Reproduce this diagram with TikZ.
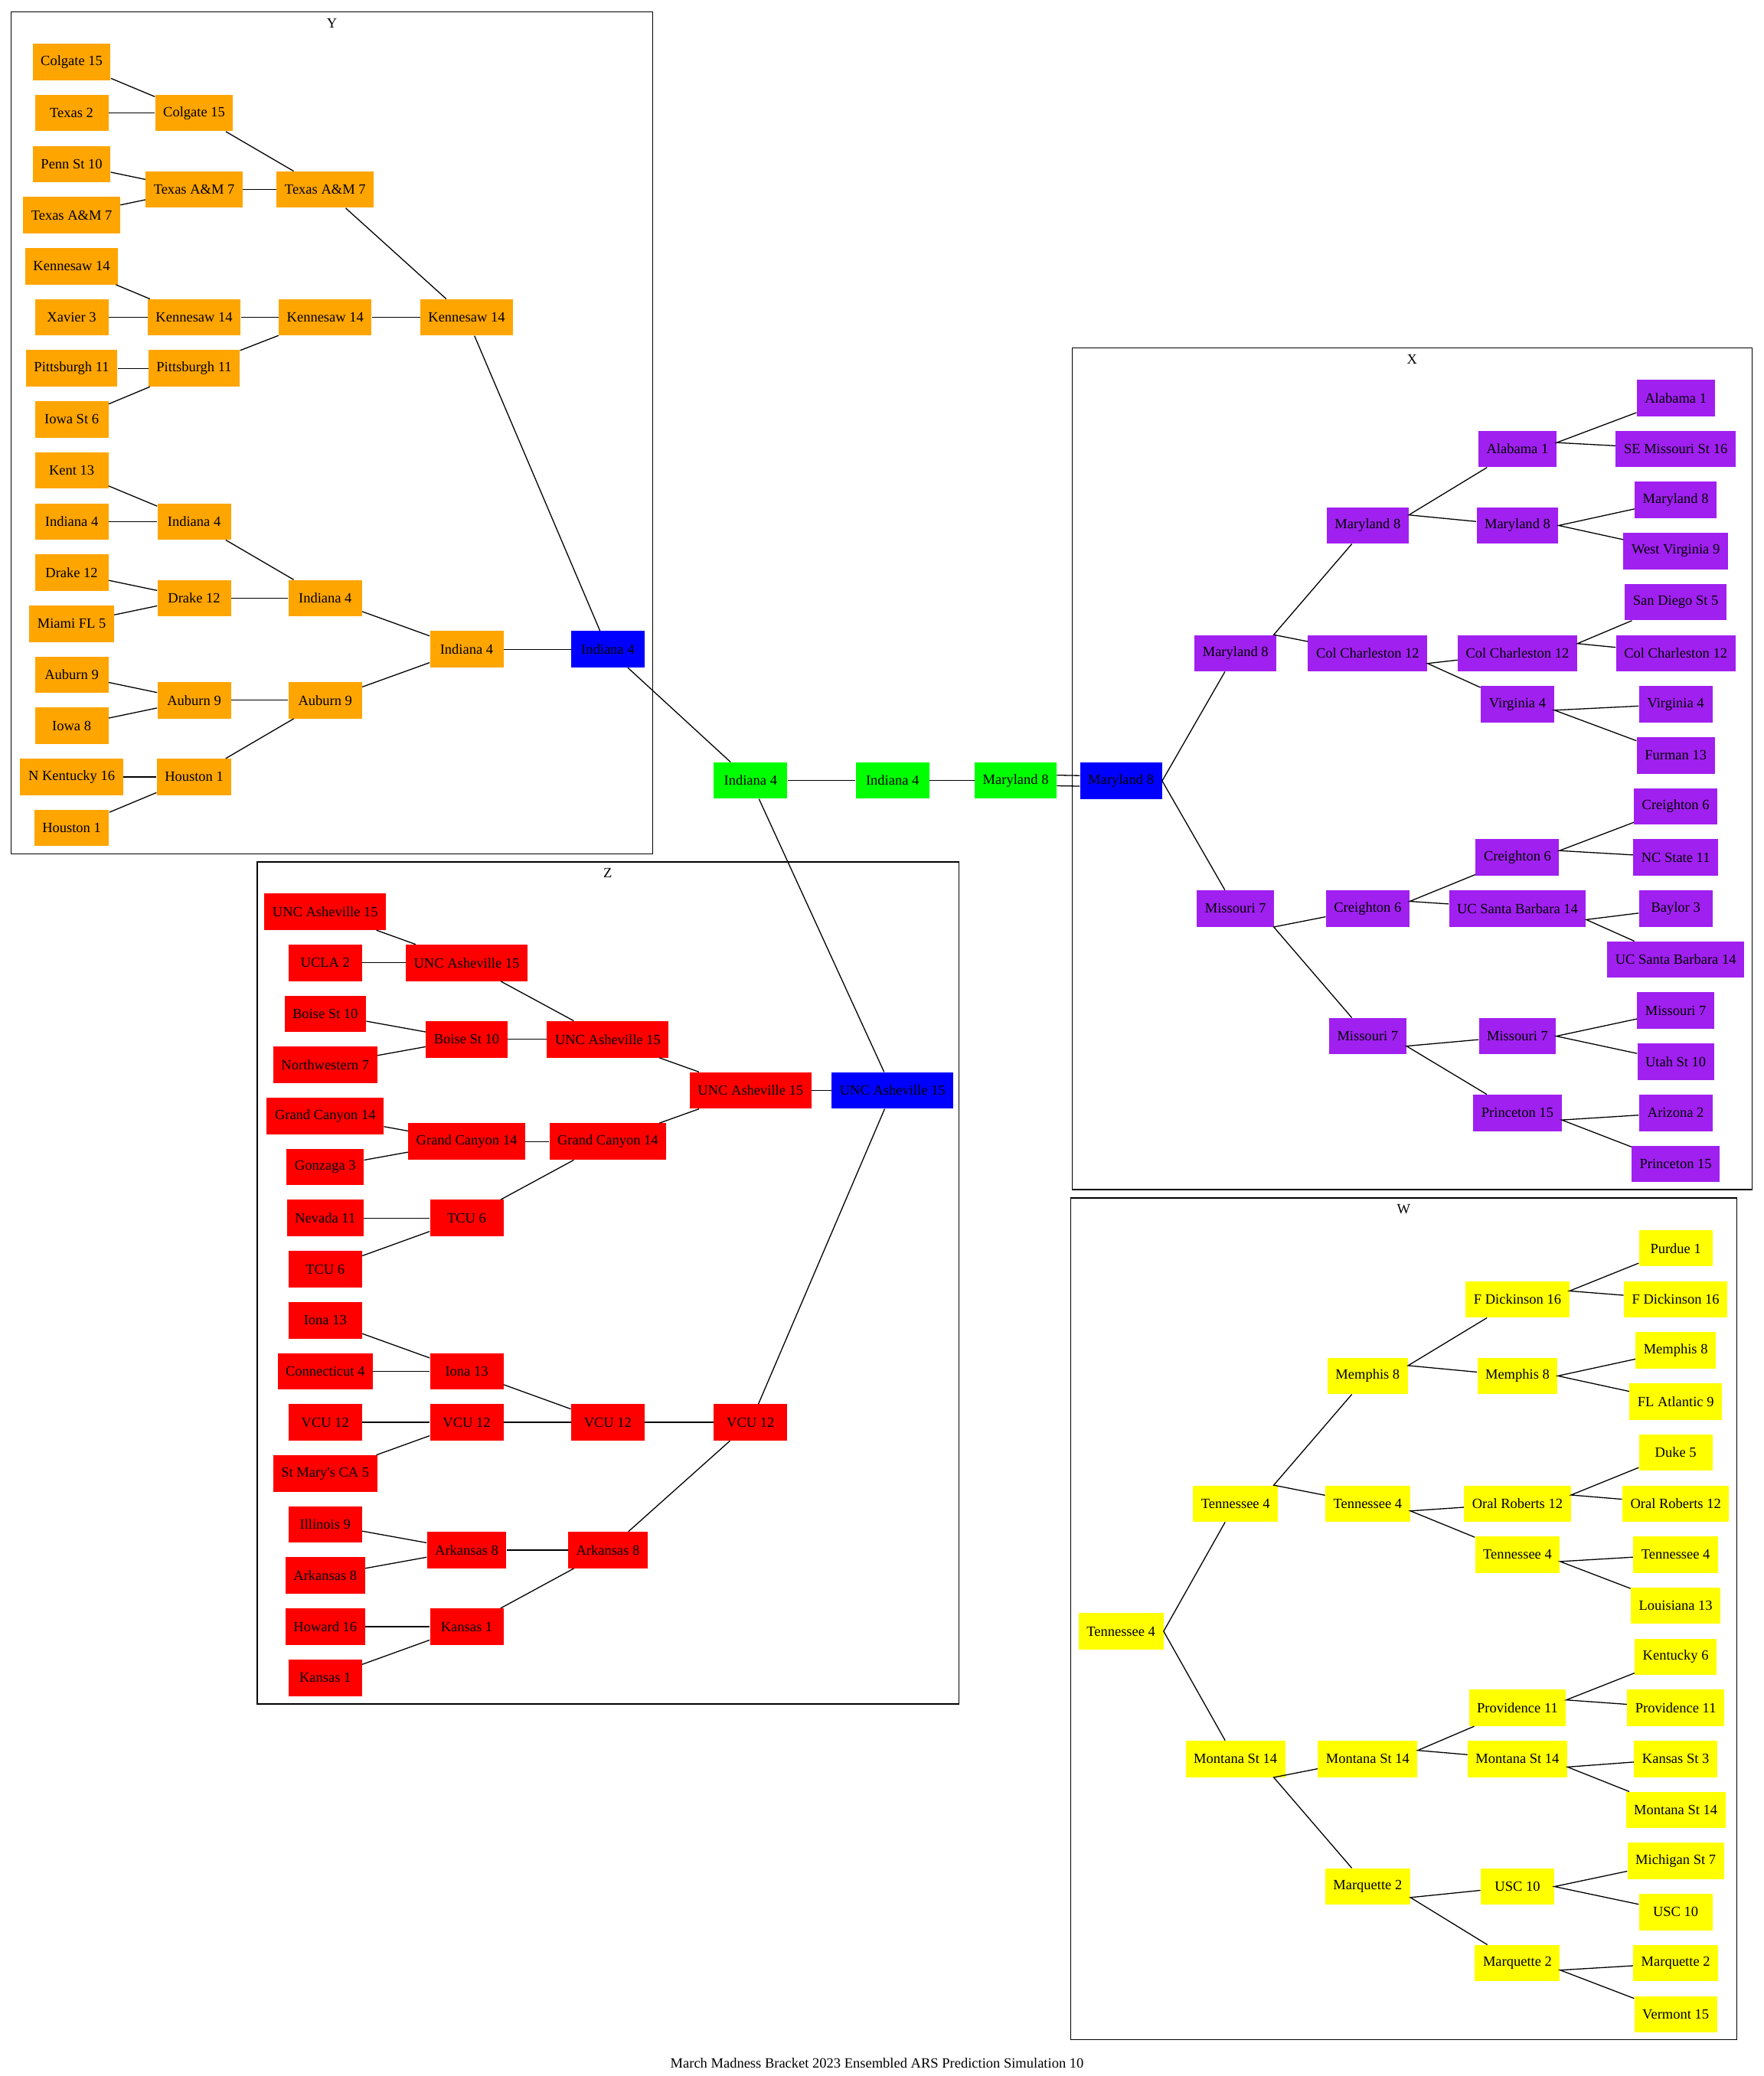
\documentclass[tikz,border=0pt]{standalone}
\usepackage{fontspec}
\setmainfont{Liberation Serif}
\usetikzlibrary{calc}
\definecolor{gvorange}{HTML}{FFA500}
\definecolor{gvpurple}{HTML}{A020F0}
\definecolor{gvblue}{HTML}{0000FF}
\definecolor{gvgreen}{HTML}{00FF00}
\definecolor{gvred}{HTML}{FF0000}
\definecolor{gvyellow}{HTML}{FFFF00}
% parent on the left: both games leave one point of its border
\newcommand{\bfork}[3]{%
  \path (#1) -- coordinate[pos=0] (k#1) ($(#2)!.5!(#3)$);
  \draw[game] (#2) -- (k#1) -- (#3);}

\begin{document}
\begin{tikzpicture}[
  x=1pt, y=-1pt,
  team/.style={rectangle, inner xsep=6.1pt, inner ysep=0pt,
               minimum width=55.5pt, minimum height=27.5pt,
               font=\fontsize{10.7}{12}\selectfont},
  ynode/.style={team, fill=gvorange},
  xnode/.style={team, fill=gvpurple},
  wnode/.style={team, fill=gvyellow},
  znode/.style={team, fill=gvred},
  champ/.style={team, fill=gvblue},
  final/.style={team, fill=gvgreen},
  game/.style={line width=0.75pt},
  region/.style={draw, line width=0.75pt},
  lbl/.style={font=\fontsize{10.7}{12}\selectfont, inner sep=0pt}
]
\useasboundingbox (0,0) rectangle (1332,1568);

% Region boxes
\draw[region] (8.5,9) rectangle (493,645);
\node[lbl] (ylbl) at (250.7,17.4) {Y};
\draw[region] (194.3,651) rectangle (724,1287);
\node[lbl] (zlbl) at (459,659.4) {Z};
\draw[region] (809.6,262.9) rectangle (1323,898.5);
\node[lbl] (xlbl) at (1066.3,271.3) {X};
\draw[region] (808.6,904.8) rectangle (1311.4,1540.5);
\node[lbl] (wlbl) at (1060,913.4) {W};

% Region Y
\node[ynode] (Y1a) at (54.1,46.8) {Colgate 15};
\node[ynode] (Y1b) at (54.1,85.4) {Texas 2};
\node[ynode] (Y1c) at (54.1,123.9) {Penn St 10};
\node[ynode] (Y1d) at (54.1,162.5) {Texas A\&M 7};
\node[ynode] (Y1e) at (54.1,201.1) {Kennesaw 14};
\node[ynode] (Y1f) at (54.1,239.7) {Xavier 3};
\node[ynode] (Y1g) at (54.1,278.2) {Pittsburgh 11};
\node[ynode] (Y1h) at (54.1,316.8) {Iowa St 6};
\node[ynode] (Y1i) at (54.1,355.4) {Kent 13};
\node[ynode] (Y1j) at (54.1,393.9) {Indiana 4};
\node[ynode] (Y1k) at (54.1,432.5) {Drake 12};
\node[ynode] (Y1l) at (54.1,471.1) {Miami FL 5};
\node[ynode] (Y1m) at (54.1,509.6) {Auburn 9};
\node[ynode] (Y1n) at (54.1,548.2) {Iowa 8};
\node[ynode] (Y1o) at (54.1,586.8) {N Kentucky 16};
\node[ynode] (Y1p) at (54.1,625.4) {Houston 1};

\node[ynode] (Y2a) at (146.6,85.4) {Colgate 15};
\node[ynode] (Y2b) at (146.6,143.2) {Texas A\&M 7};
\node[ynode] (Y2c) at (146.6,239.7) {Kennesaw 14};
\node[ynode] (Y2d) at (146.6,278.2) {Pittsburgh 11};
\node[ynode] (Y2e) at (146.6,393.9) {Indiana 4};
\node[ynode] (Y2f) at (146.6,451.8) {Drake 12};
\node[ynode] (Y2g) at (146.6,528.9) {Auburn 9};
\node[ynode] (Y2h) at (146.6,586.8) {Houston 1};

\node[ynode] (Y3a) at (245.6,143.2) {Texas A\&M 7};
\node[ynode] (Y3b) at (245.6,239.7) {Kennesaw 14};
\node[ynode] (Y3c) at (245.6,451.8) {Indiana 4};
\node[ynode] (Y3d) at (245.6,528.9) {Auburn 9};

\node[ynode] (Y4a) at (352.4,239.7) {Kennesaw 14};
\node[ynode] (Y4b) at (352.4,490.4) {Indiana 4};

\node[champ] (Y5) at (459,490.4) {Indiana 4};

% Region Z
\node[znode] (Z1a) at (245.6,688.6) {UNC Asheville 15};
\node[znode] (Z1b) at (245.6,727.2) {UCLA 2};
\node[znode] (Z1c) at (245.6,765.7) {Boise St 10};
\node[znode] (Z1d) at (245.6,804.3) {Northwestern 7};
\node[znode] (Z1e) at (245.6,842.9) {Grand Canyon 14};
\node[znode] (Z1f) at (245.6,881.5) {Gonzaga 3};
\node[znode] (Z1g) at (245.6,920.0) {Nevada 11};
\node[znode] (Z1h) at (245.6,958.6) {TCU 6};
\node[znode] (Z1i) at (245.6,997.2) {Iona 13};
\node[znode] (Z1j) at (245.6,1035.7) {Connecticut 4};
\node[znode] (Z1k) at (245.6,1074.3) {VCU 12};
\node[znode] (Z1l) at (245.6,1112.9) {St Mary\textquotesingle s CA 5};
\node[znode] (Z1m) at (245.6,1151.4) {Illinois 9};
\node[znode] (Z1n) at (245.6,1190.0) {Arkansas 8};
\node[znode] (Z1o) at (245.6,1228.6) {Howard 16};
\node[znode] (Z1p) at (245.6,1267.2) {Kansas 1};

\node[znode] (Z2a) at (352.4,727.2) {UNC Asheville 15};
\node[znode] (Z2b) at (352.4,785.0) {Boise St 10};
\node[znode] (Z2c) at (352.4,862.2) {Grand Canyon 14};
\node[znode] (Z2d) at (352.4,920.0) {TCU 6};
\node[znode] (Z2e) at (352.4,1035.7) {Iona 13};
\node[znode] (Z2f) at (352.4,1074.3) {VCU 12};
\node[znode] (Z2g) at (352.4,1170.7) {Arkansas 8};
\node[znode] (Z2h) at (352.4,1228.6) {Kansas 1};

\node[znode] (Z3a) at (459,785.0) {UNC Asheville 15};
\node[znode] (Z3b) at (459,862.2) {Grand Canyon 14};
\node[znode] (Z3c) at (459,1074.3) {VCU 12};
\node[znode] (Z3d) at (459,1170.7) {Arkansas 8};

\node[znode] (Z4a) at (566.8,823.6) {UNC Asheville 15};
\node[znode] (Z4b) at (566.8,1074.3) {VCU 12};

\node[champ] (Z5) at (674,823.6) {UNC Asheville 15};

% Final rounds
\node[final] (F1) at (566.8,589.5) {Indiana 4};
\node[final] (F2) at (674,589.5) {Indiana 4};
\node[final] (F3) at (767,589.5) {Maryland 8};

% Region X
\node[champ] (X5) at (846.5,589.8) {Maryland 8};

\node[xnode] (X4a) at (933,493.4) {Maryland 8};
\node[xnode] (X4b) at (933,686.2) {Missouri 7};

\node[xnode] (X3a) at (1032.8,396.9) {Maryland 8};
\node[xnode] (X3b) at (1032.8,493.4) {Col Charleston 12};
\node[xnode] (X3c) at (1032.8,686.2) {Creighton 6};
\node[xnode] (X3d) at (1032.8,782.6) {Missouri 7};

\node[xnode] (X2a) at (1145.9,339.1) {Alabama 1};
\node[xnode] (X2b) at (1145.9,396.9) {Maryland 8};
\node[xnode] (X2c) at (1145.9,493.4) {Col Charleston 12};
\node[xnode] (X2d) at (1145.9,531.9) {Virginia 4};
\node[xnode] (X2e) at (1145.9,647.6) {Creighton 6};
\node[xnode] (X2f) at (1145.9,686.2) {UC Santa Barbara 14};
\node[xnode] (X2g) at (1145.9,782.6) {Missouri 7};
\node[xnode] (X2h) at (1145.9,840.5) {Princeton 15};

\node[xnode] (X1a) at (1265.4,300.5) {Alabama 1};
\node[xnode] (X1b) at (1265.4,339.1) {SE Missouri St 16};
\node[xnode] (X1c) at (1265.4,377.6) {Maryland 8};
\node[xnode] (X1d) at (1265.4,416.2) {West Virginia 9};
\node[xnode] (X1e) at (1265.4,454.8) {San Diego St 5};
\node[xnode] (X1f) at (1265.4,493.4) {Col Charleston 12};
\node[xnode] (X1g) at (1265.4,531.9) {Virginia 4};
\node[xnode] (X1h) at (1265.4,570.5) {Furman 13};
\node[xnode] (X1i) at (1265.4,609.1) {Creighton 6};
\node[xnode] (X1j) at (1265.4,647.6) {NC State 11};
\node[xnode] (X1k) at (1265.4,686.2) {Baylor 3};
\node[xnode] (X1l) at (1265.4,724.8) {UC Santa Barbara 14};
\node[xnode] (X1m) at (1265.4,763.3) {Missouri 7};
\node[xnode] (X1n) at (1265.4,801.9) {Utah St 10};
\node[xnode] (X1o) at (1265.4,840.5) {Arizona 2};
\node[xnode] (X1p) at (1265.4,879.1) {Princeton 15};

% Region W
\node[wnode] (W5) at (846.5,1232.1) {Tennessee 4};

\node[wnode] (W4a) at (933,1135.7) {Tennessee 4};
\node[wnode] (W4b) at (933,1328.5) {Montana St 14};

\node[wnode] (W3a) at (1032.8,1039.2) {Memphis 8};
\node[wnode] (W3b) at (1032.8,1135.7) {Tennessee 4};
\node[wnode] (W3c) at (1032.8,1328.5) {Montana St 14};
\node[wnode] (W3d) at (1032.8,1424.9) {Marquette 2};

\node[wnode] (W2a) at (1145.9,981.4) {F Dickinson 16};
\node[wnode] (W2b) at (1145.9,1039.2) {Memphis 8};
\node[wnode] (W2c) at (1145.9,1135.7) {Oral Roberts 12};
\node[wnode] (W2d) at (1145.9,1174.2) {Tennessee 4};
\node[wnode] (W2e) at (1145.9,1289.9) {Providence 11};
\node[wnode] (W2f) at (1145.9,1328.5) {Montana St 14};
\node[wnode] (W2g) at (1145.9,1424.9) {USC 10};
\node[wnode] (W2h) at (1145.9,1482.8) {Marquette 2};

\node[wnode] (W1a) at (1265.4,942.8) {Purdue 1};
\node[wnode] (W1b) at (1265.4,981.4) {F Dickinson 16};
\node[wnode] (W1c) at (1265.4,1019.9) {Memphis 8};
\node[wnode] (W1d) at (1265.4,1058.5) {FL Atlantic 9};
\node[wnode] (W1e) at (1265.4,1097.1) {Duke 5};
\node[wnode] (W1f) at (1265.4,1135.7) {Oral Roberts 12};
\node[wnode] (W1g) at (1265.4,1174.2) {Tennessee 4};
\node[wnode] (W1h) at (1265.4,1212.8) {Louisiana 13};
\node[wnode] (W1i) at (1265.4,1251.4) {Kentucky 6};
\node[wnode] (W1j) at (1265.4,1289.9) {Providence 11};
\node[wnode] (W1k) at (1265.4,1328.5) {Kansas St 3};
\node[wnode] (W1l) at (1265.4,1367.1) {Montana St 14};
\node[wnode] (W1m) at (1265.4,1405.6) {Michigan St 7};
\node[wnode] (W1n) at (1265.4,1444.2) {USC 10};
\node[wnode] (W1o) at (1265.4,1482.8) {Marquette 2};
\node[wnode] (W1p) at (1265.4,1521.4) {Vermont 15};

% Games Y
\draw[game] (Y1a) -- (Y2a);
\draw[game] (Y1b) -- (Y2a);
\draw[game] (Y1c) -- (Y2b);
\draw[game] (Y1d) -- (Y2b);
\draw[game] (Y1e) -- (Y2c);
\draw[game] (Y1f) -- (Y2c);
\draw[game] (Y1g) -- (Y2d);
\draw[game] (Y1h) -- (Y2d);
\draw[game] (Y1i) -- (Y2e);
\draw[game] (Y1j) -- (Y2e);
\draw[game] (Y1k) -- (Y2f);
\draw[game] (Y1l) -- (Y2f);
\draw[game] (Y1m) -- (Y2g);
\draw[game] (Y1n) -- (Y2g);
\draw[game] (Y1o) -- (Y2h);
\draw[game] (Y1p) -- (Y2h);
\draw[game] (Y2a) -- (Y3a);
\draw[game] (Y2b) -- (Y3a);
\draw[game] (Y2c) -- (Y3b);
\draw[game] (Y2d) -- (Y3b);
\draw[game] (Y2e) -- (Y3c);
\draw[game] (Y2f) -- (Y3c);
\draw[game] (Y2g) -- (Y3d);
\draw[game] (Y2h) -- (Y3d);
\draw[game] (Y3a) -- (Y4a);
\draw[game] (Y3b) -- (Y4a);
\draw[game] (Y3c) -- (Y4b);
\draw[game] (Y3d) -- (Y4b);
\draw[game] (Y4a) -- (Y5);
\draw[game] (Y4b) -- (Y5);

% Games Z
\draw[game] (Z1a) -- (Z2a);
\draw[game] (Z1b) -- (Z2a);
\draw[game] (Z1c) -- (Z2b);
\draw[game] (Z1d) -- (Z2b);
\draw[game] (Z1e) -- (Z2c);
\draw[game] (Z1f) -- (Z2c);
\draw[game] (Z1g) -- (Z2d);
\draw[game] (Z1h) -- (Z2d);
\draw[game] (Z1i) -- (Z2e);
\draw[game] (Z1j) -- (Z2e);
\draw[game] (Z1k) -- (Z2f);
\draw[game] (Z1l) -- (Z2f);
\draw[game] (Z1m) -- (Z2g);
\draw[game] (Z1n) -- (Z2g);
\draw[game] (Z1o) -- (Z2h);
\draw[game] (Z1p) -- (Z2h);
\draw[game] (Z2a) -- (Z3a);
\draw[game] (Z2b) -- (Z3a);
\draw[game] (Z2c) -- (Z3b);
\draw[game] (Z2d) -- (Z3b);
\draw[game] (Z2e) -- (Z3c);
\draw[game] (Z2f) -- (Z3c);
\draw[game] (Z2g) -- (Z3d);
\draw[game] (Z2h) -- (Z3d);
\draw[game] (Z3a) -- (Z4a);
\draw[game] (Z3b) -- (Z4a);
\draw[game] (Z3c) -- (Z4b);
\draw[game] (Z3d) -- (Z4b);
\draw[game] (Z4a) -- (Z5);
\draw[game] (Z4b) -- (Z5);

% Games X
\bfork{X5}{X4a}{X4b}
\bfork{X4a}{X3a}{X3b}
\bfork{X4b}{X3c}{X3d}
\bfork{X3a}{X2a}{X2b}
\bfork{X3b}{X2c}{X2d}
\bfork{X3c}{X2e}{X2f}
\bfork{X3d}{X2g}{X2h}
\bfork{X2a}{X1a}{X1b}
\bfork{X2b}{X1c}{X1d}
\bfork{X2c}{X1e}{X1f}
\bfork{X2d}{X1g}{X1h}
\bfork{X2e}{X1i}{X1j}
\bfork{X2f}{X1k}{X1l}
\bfork{X2g}{X1m}{X1n}
\bfork{X2h}{X1o}{X1p}

% Games W
\bfork{W5}{W4a}{W4b}
\bfork{W4a}{W3a}{W3b}
\bfork{W4b}{W3c}{W3d}
\bfork{W3a}{W2a}{W2b}
\bfork{W3b}{W2c}{W2d}
\bfork{W3c}{W2e}{W2f}
\bfork{W3d}{W2g}{W2h}
\bfork{W2a}{W1a}{W1b}
\bfork{W2b}{W1c}{W1d}
\bfork{W2c}{W1e}{W1f}
\bfork{W2d}{W1g}{W1h}
\bfork{W2e}{W1i}{W1j}
\bfork{W2f}{W1k}{W1l}
\bfork{W2g}{W1m}{W1n}
\bfork{W2h}{W1o}{W1p}

% Final games
\draw[game] (Y5) -- (F1);
\draw[game] (Z5) -- (F1);
\draw[game] (F1) -- (F2);
\draw[game] (F2) -- (F3);
\draw[game] ([yshift=-4pt]F3.east) -- ([yshift=-4pt]X5.west);
\draw[game] ([yshift=4pt]F3.east) -- ([yshift=4pt]X5.west);

\node[lbl] (title) at (662.3,1558) {March Madness Bracket 2023 Ensembled ARS Prediction Simulation 10};
\end{tikzpicture}
\end{document}
